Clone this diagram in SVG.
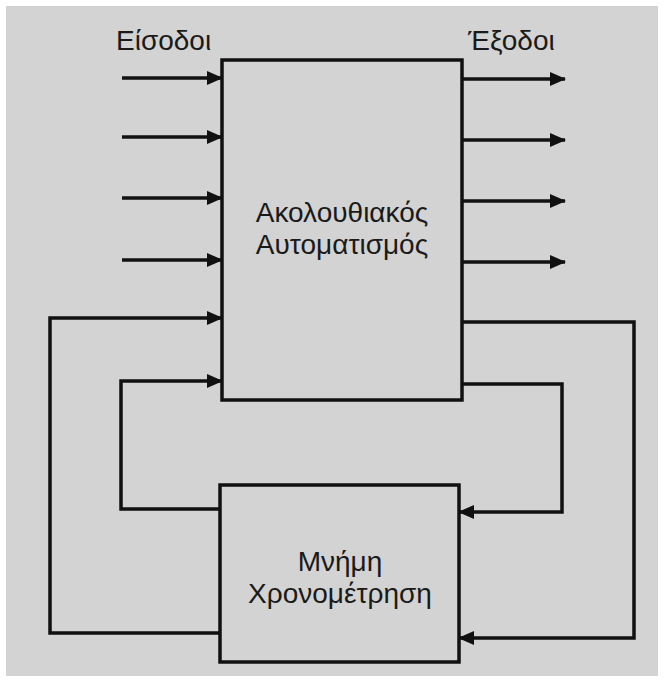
<svg xmlns="http://www.w3.org/2000/svg" width="665" height="680" viewBox="0 0 665 680">
<defs>
<style>
.bg{fill:#d3d3d3}
.box{fill:none;stroke:#111;stroke-width:3.5}
.ln{fill:none;stroke:#111;stroke-width:3.5}
.t{font-family:"Liberation Sans",Arial,sans-serif;font-size:28px;fill:#1a1a1a}
.c{text-anchor:middle}
</style>
<marker id="ah" viewBox="0 0 16 14" refX="15" refY="7" markerWidth="16" markerHeight="14" markerUnits="userSpaceOnUse" orient="auto">
<path d="M0,0 L16,7 L0,14 z" fill="#111"/>
</marker>
</defs>
<rect width="665" height="680" fill="#ffffff"/>
<rect class="bg" x="6" y="6" width="652" height="670"/>
<text class="t" x="116" y="50">Είσοδοι</text>
<text class="t" x="468" y="50">Έξοδοι</text>
<g id="automation">
<rect class="box" x="222" y="60" width="240" height="340"/>
<text class="t c" x="342" y="222">Ακολουθιακός</text>
<text class="t c" x="342" y="254">Αυτοματισμός</text>
</g>
<g id="memory">
<rect class="box" x="220" y="485" width="239" height="177"/>
<text class="t c" x="340" y="571">Μνήμη</text>
<text class="t c" x="340" y="603">Χρονομέτρηση</text>
</g>
<g id="connectors">
<line class="ln" x1="122" y1="78" x2="222" y2="78" marker-end="url(#ah)"/>
<line class="ln" x1="122" y1="137" x2="222" y2="137" marker-end="url(#ah)"/>
<line class="ln" x1="122" y1="198" x2="222" y2="198" marker-end="url(#ah)"/>
<line class="ln" x1="122" y1="260" x2="222" y2="260" marker-end="url(#ah)"/>
<line class="ln" x1="462" y1="79" x2="565" y2="79" marker-end="url(#ah)"/>
<line class="ln" x1="462" y1="140" x2="565" y2="140" marker-end="url(#ah)"/>
<line class="ln" x1="462" y1="201" x2="565" y2="201" marker-end="url(#ah)"/>
<line class="ln" x1="462" y1="262" x2="565" y2="262" marker-end="url(#ah)"/>
<polyline class="ln" points="220,633 50,633 50,318 222,318" marker-end="url(#ah)"/>
<polyline class="ln" points="220,509 121,509 121,381 222,381" marker-end="url(#ah)"/>
<polyline class="ln" points="462,322 634,322 634,638 459,638" marker-end="url(#ah)"/>
<polyline class="ln" points="462,384 562,384 562,512 459,512" marker-end="url(#ah)"/>
</g>
</svg>
